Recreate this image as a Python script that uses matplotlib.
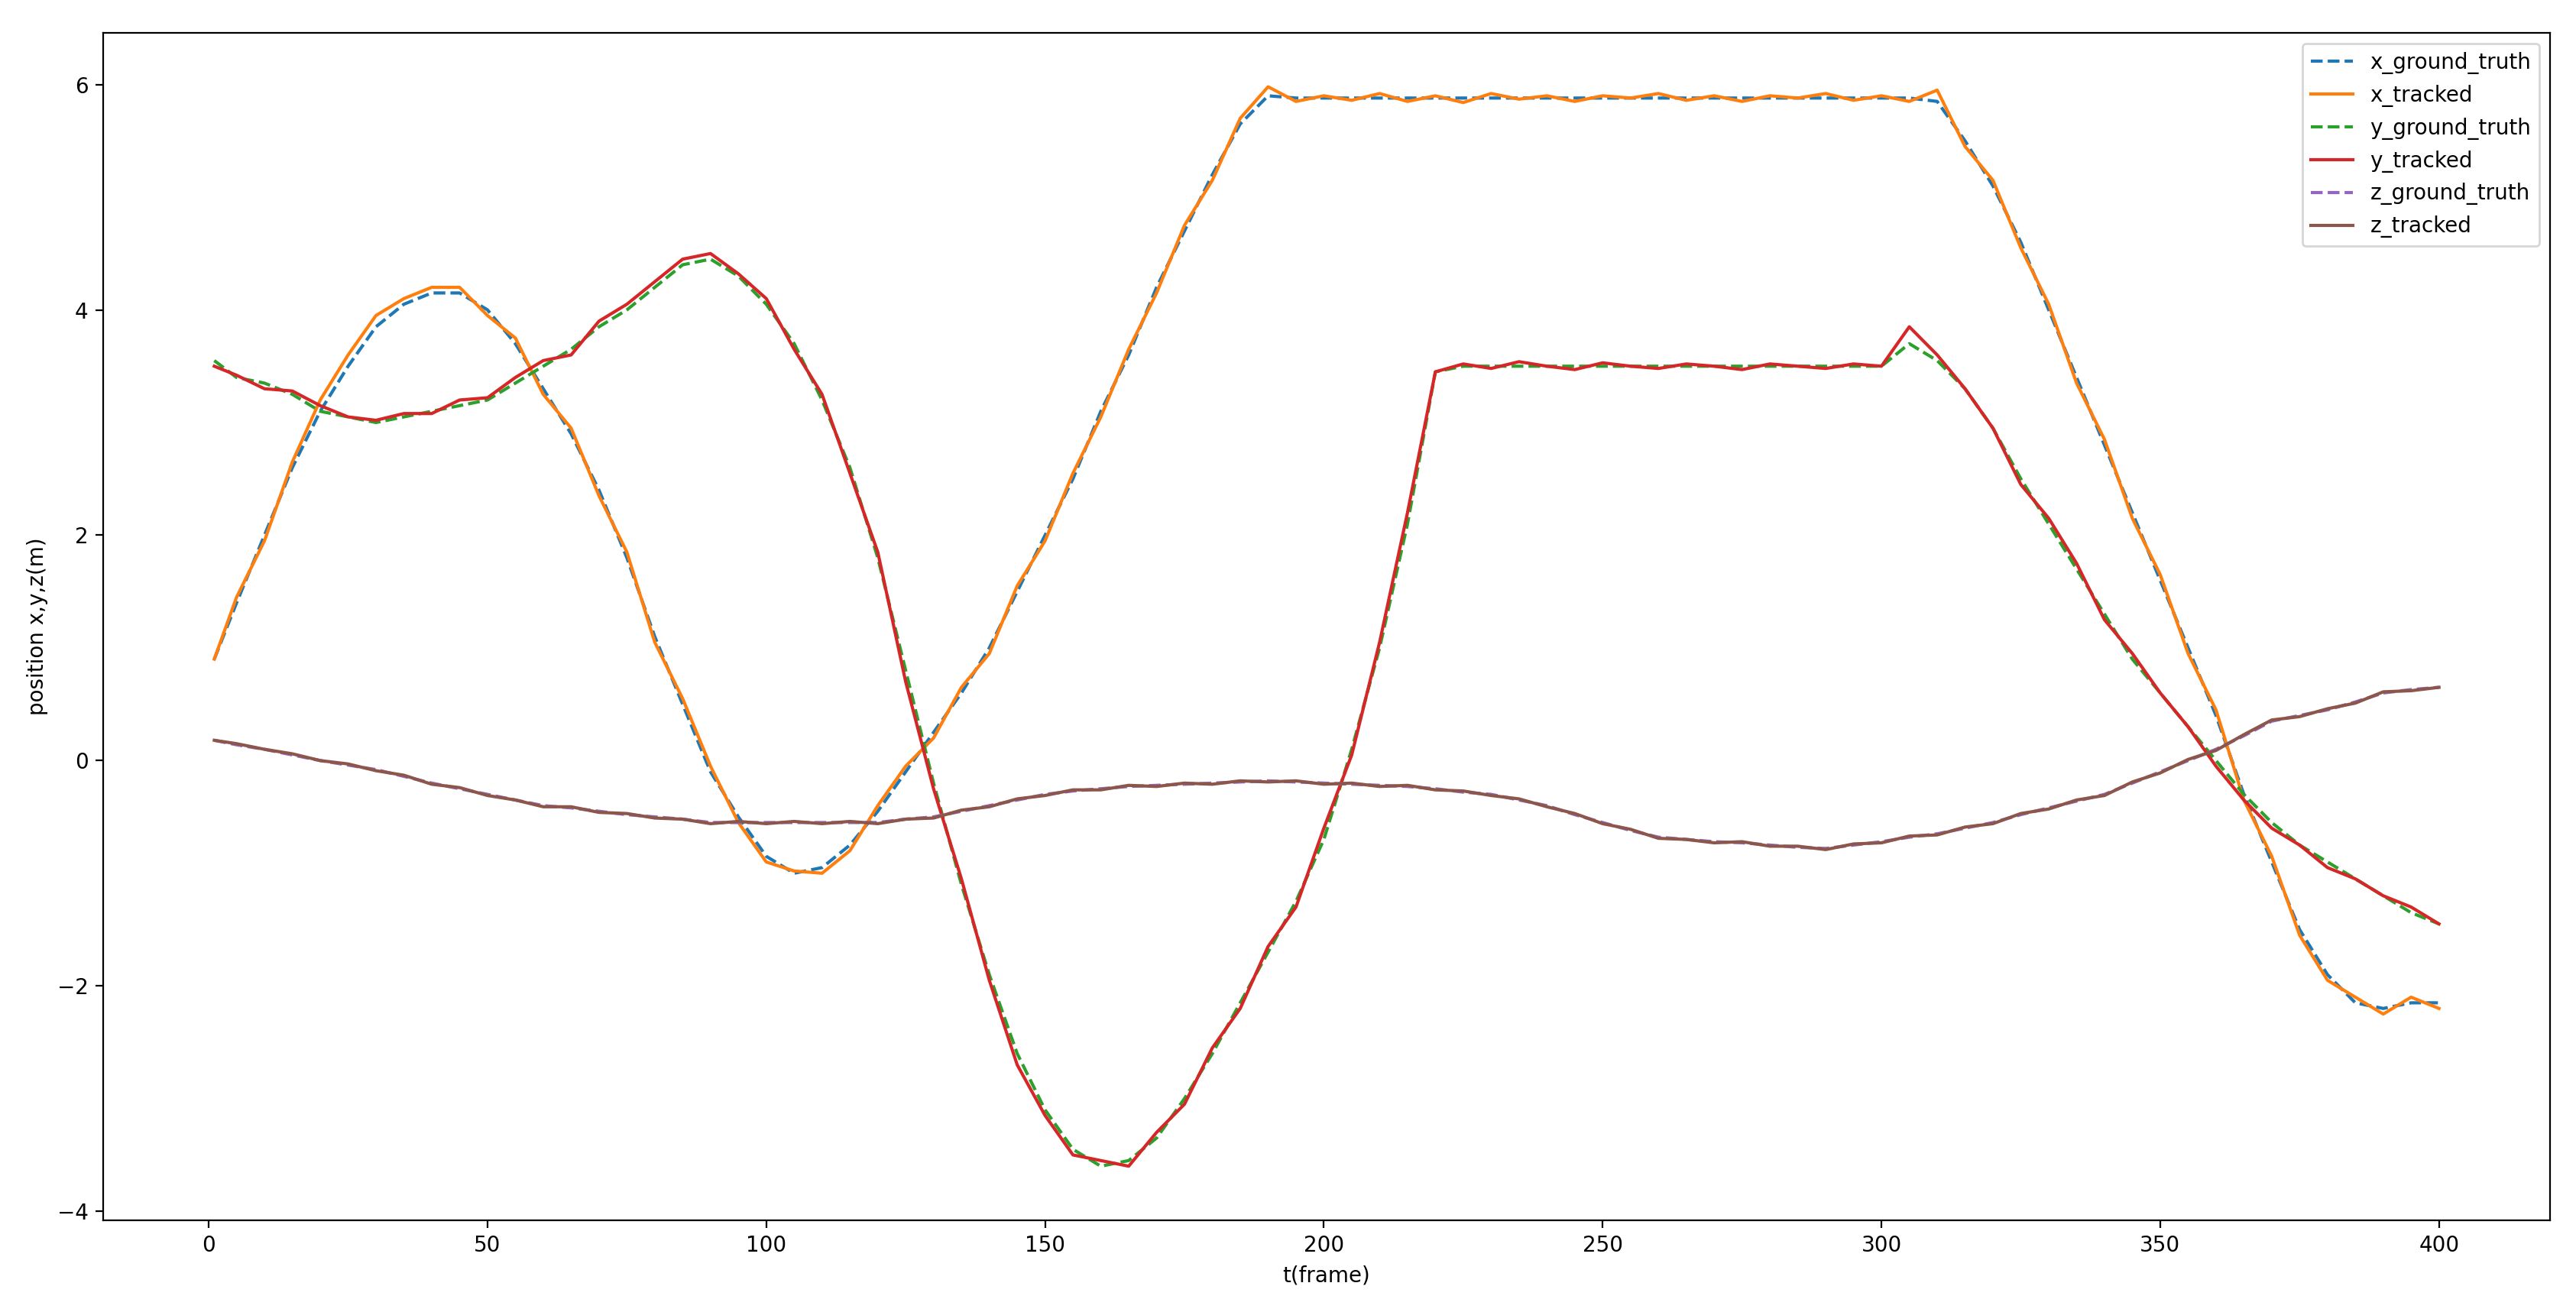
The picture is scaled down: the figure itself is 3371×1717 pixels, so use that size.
import matplotlib
matplotlib.use("Agg")
import matplotlib.pyplot as plt

frames = [1] + list(range(5, 401, 5))

x_gt = [0.9,1.4,2.0,2.6,3.1,3.5,3.85,4.05,4.15,4.15,4.0,3.7,3.3,2.9,2.4,1.8,1.1,0.5,-0.1,-0.5,
        -0.85,-1.0,-0.95,-0.75,-0.45,-0.1,0.25,0.6,1.0,1.5,2.0,2.5,3.1,3.6,4.2,4.7,5.2,5.65,5.9,5.88,
        5.88,5.88,5.88,5.88,5.88,5.88,5.88,5.88,5.88,5.88,5.88,5.88,5.88,5.88,5.88,5.88,5.88,5.88,5.88,5.88,
        5.88,5.88,5.85,5.5,5.1,4.6,4.0,3.4,2.8,2.2,1.6,1.0,0.4,-0.3,-0.9,-1.5,-1.9,-2.15,-2.2,-2.15,-2.15]
x_tr = [0.9,1.45,1.95,2.65,3.2,3.6,3.95,4.1,4.2,4.2,3.95,3.75,3.25,2.95,2.35,1.85,1.05,0.55,-0.05,-0.55,
        -0.9,-0.98,-1.0,-0.8,-0.4,-0.05,0.2,0.65,0.95,1.55,1.95,2.55,3.05,3.65,4.15,4.75,5.15,5.7,5.98,5.85,
        5.9,5.86,5.92,5.85,5.9,5.84,5.92,5.87,5.9,5.85,5.9,5.88,5.92,5.86,5.9,5.85,5.9,5.88,5.92,5.86,
        5.9,5.85,5.95,5.45,5.15,4.55,4.05,3.35,2.85,2.15,1.65,0.95,0.45,-0.35,-0.85,-1.55,-1.95,-2.1,-2.25,-2.1,-2.2]
y_gt = [3.55,3.4,3.35,3.25,3.1,3.05,3.0,3.05,3.1,3.15,3.2,3.35,3.5,3.65,3.85,4.0,4.2,4.4,4.45,4.3,
        4.05,3.7,3.2,2.6,1.8,0.8,-0.2,-1.1,-1.9,-2.6,-3.1,-3.45,-3.6,-3.55,-3.35,-3.0,-2.6,-2.15,-1.7,-1.25,
        -0.7,0.1,1.0,2.1,3.45,3.5,3.5,3.5,3.5,3.5,3.5,3.5,3.5,3.5,3.5,3.5,3.5,3.5,3.5,3.5,
        3.5,3.7,3.55,3.3,2.95,2.5,2.1,1.7,1.3,0.9,0.6,0.3,0.0,-0.3,-0.55,-0.75,-0.9,-1.05,-1.2,-1.35,-1.45]
y_tr = [3.5,3.42,3.3,3.28,3.15,3.05,3.02,3.08,3.08,3.2,3.22,3.4,3.55,3.6,3.9,4.05,4.25,4.45,4.5,4.32,
        4.1,3.65,3.25,2.55,1.85,0.7,-0.25,-1.05,-1.95,-2.7,-3.15,-3.5,-3.55,-3.6,-3.3,-3.05,-2.55,-2.2,-1.65,-1.3,
        -0.6,0.05,1.05,2.2,3.45,3.52,3.48,3.54,3.5,3.47,3.53,3.5,3.48,3.52,3.5,3.47,3.52,3.5,3.48,3.52,
        3.5,3.85,3.6,3.3,2.95,2.45,2.15,1.75,1.25,0.95,0.6,0.3,-0.05,-0.35,-0.6,-0.75,-0.95,-1.05,-1.2,-1.3,-1.45]
z_gt = [0.18,0.14,0.1,0.05,0.0,-0.04,-0.08,-0.14,-0.2,-0.25,-0.3,-0.35,-0.4,-0.42,-0.45,-0.48,-0.5,-0.52,-0.55,-0.55,
        -0.55,-0.55,-0.55,-0.55,-0.55,-0.52,-0.5,-0.45,-0.4,-0.35,-0.3,-0.27,-0.25,-0.23,-0.22,-0.21,-0.2,-0.19,-0.18,-0.19,
        -0.2,-0.21,-0.22,-0.23,-0.25,-0.28,-0.3,-0.35,-0.4,-0.48,-0.55,-0.62,-0.68,-0.7,-0.72,-0.73,-0.75,-0.77,-0.78,-0.75,
        -0.72,-0.68,-0.65,-0.6,-0.55,-0.48,-0.42,-0.36,-0.3,-0.2,-0.1,0.0,0.1,0.22,0.35,0.4,0.45,0.52,0.6,0.63,0.65]
z_tr = [0.18,0.15,0.1,0.06,0.0,-0.03,-0.09,-0.13,-0.21,-0.24,-0.31,-0.35,-0.41,-0.41,-0.46,-0.47,-0.51,-0.52,-0.56,-0.54,
        -0.56,-0.54,-0.56,-0.54,-0.56,-0.52,-0.51,-0.44,-0.41,-0.34,-0.31,-0.26,-0.26,-0.22,-0.23,-0.2,-0.21,-0.18,-0.19,-0.18,
        -0.21,-0.2,-0.23,-0.22,-0.26,-0.27,-0.31,-0.34,-0.41,-0.47,-0.56,-0.61,-0.69,-0.7,-0.73,-0.72,-0.76,-0.76,-0.79,-0.74,
        -0.73,-0.67,-0.66,-0.59,-0.56,-0.47,-0.43,-0.35,-0.31,-0.19,-0.11,0.01,0.09,0.23,0.36,0.39,0.46,0.51,0.61,0.62,0.65]

fig = plt.figure(figsize=(16.855, 8.585), dpi=200)
ax = fig.add_subplot(111)
fig.subplots_adjust(left=0.04, right=0.99, top=0.975, bottom=0.07)
ax.plot(frames, x_gt, '--', color='#1f77b4', label='x_ground_truth')
ax.plot(frames, x_tr, '-', color='#ff7f0e', label='x_tracked')
ax.plot(frames, y_gt, '--', color='#2ca02c', label='y_ground_truth')
ax.plot(frames, y_tr, '-', color='#d62728', label='y_tracked')
ax.plot(frames, z_gt, '--', color='#9467bd', label='z_ground_truth')
ax.plot(frames, z_tr, '-', color='#8c564b', label='z_tracked')
ax.set_xlabel('t(frame)')
ax.set_ylabel('position x,y,z(m)')
ax.legend(loc='upper right')
fig.savefig('out.png', dpi=200)
